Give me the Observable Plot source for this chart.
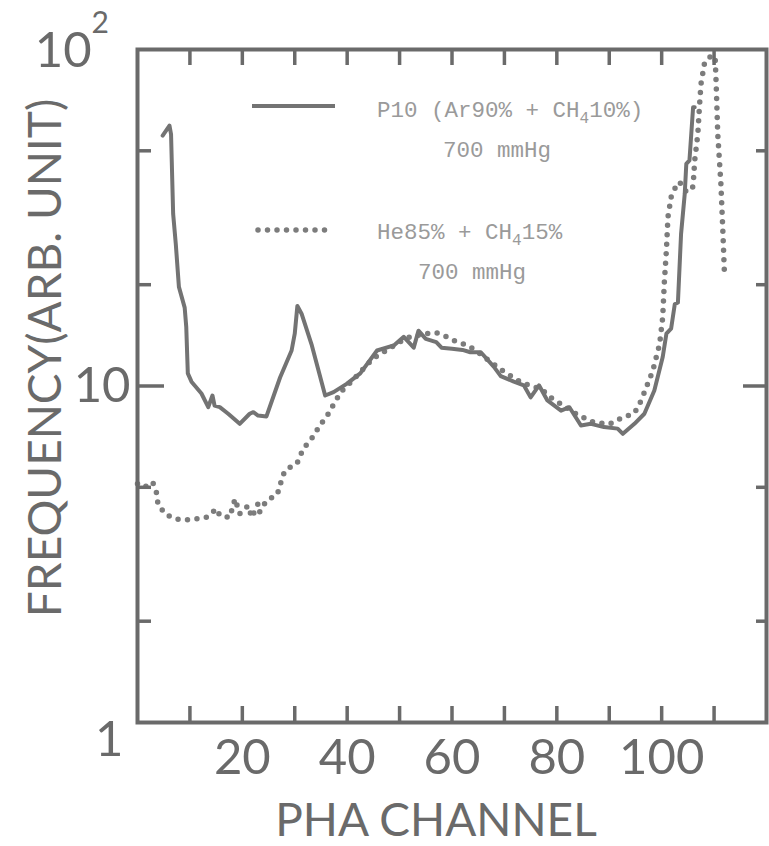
<!DOCTYPE html>
<html><head><meta charset="utf-8">
<script src="https://cdn.jsdelivr.net/npm/d3@7"></script>
<script src="https://cdn.jsdelivr.net/npm/@observablehq/plot@0.6"></script>
<style>body{margin:0;background:#fff} svg{display:block}</style>
</head><body><div id="chart"></div>
<script>
// ---- data ----
const p10Channel = [4.8, 6.1, 6.4, 6.8, 7.3, 7.9, 9.0, 9.3, 9.6, 10.3, 12.2, 13.5, 14.3, 14.7, 15.7, 17.3, 19.5, 21.4, 22.1, 23.0, 24.6, 27.2, 29.4, 30.0, 30.5, 31.3, 33.2, 35.8, 37.4, 39.9, 42.5, 45.7, 48.9, 50.8, 52.7, 53.6, 55, 57, 58, 60, 62, 63.5, 65.5, 68.0, 69.3, 71.8, 73.7, 75.0, 76.6, 78.2, 80.8, 82.4, 84.6, 86.5, 89, 91.6, 92.6, 94.8, 96.7, 98.6, 100.2, 100.9, 101.8, 102.5, 103.1, 103.7, 104.4, 104.7, 105.3, 106.0, 106.3];
const p10Freq = [55.5, 59.4, 56, 32.5, 26.5, 19.7, 17.1, 15.0, 10.9, 10.3, 9.5, 8.65, 9.37, 8.74, 8.65, 8.27, 7.72, 8.27, 8.36, 8.17, 8.12, 10.6, 12.75, 14.3, 17.3, 16.4, 13.3, 9.37, 9.59, 10.15, 10.9, 12.75, 13.2, 14.0, 13.0, 14.6, 13.8, 13.5, 13.0, 12.9, 12.8, 12.6, 12.6, 11.4, 10.7, 10.3, 10.05, 9.25, 10.05, 9.06, 8.45, 8.65, 7.63, 7.72, 7.55, 7.47, 7.21, 7.72, 8.27, 9.7, 12.2, 14.3, 14.8, 17.5, 17.7, 28.3, 37.2, 45.7, 46.8, 67.4, 67.4];
const heChannel = [0, 1.3, 2.9, 3.6, 3.9, 5.2, 7.1, 9.3, 11.2, 13.1, 15.1, 15.7, 17.6, 18.6, 19.5, 21.1, 21.8, 23.0, 23.3, 24.6, 26.5, 27.2, 27.5, 28.5, 30.4, 31.6, 33.2, 34.8, 36.4, 38.0, 39.3, 40, 42.5, 45, 48, 50, 52, 55, 57, 59, 61, 63, 65, 67, 70, 73, 75, 77, 79, 81, 84, 87, 90, 92.6, 94.8, 96.1, 98.3, 99.6, 100.2, 100.5, 100.9, 101.2, 101.8, 102.8, 103.4, 104.5, 105.6, 106.0, 106.3, 106.9, 107.2, 107.5, 108.2, 109.5, 110.2, 110.4, 110.7, 111.3, 111.7, 112.0];
const heFreq = [5.12, 5.0, 5.18, 4.83, 4.47, 4.17, 4.03, 4.0, 4.03, 4.07, 4.32, 4.12, 4.07, 4.62, 4.17, 4.41, 4.07, 4.47, 4.22, 4.57, 4.73, 5.0, 5.36, 5.67, 5.87, 6.5, 6.97, 7.63, 8.27, 9.16, 9.8, 10.0, 11.0, 12.1, 12.9, 13.5, 14.0, 14.3, 14.4, 14.0, 13.5, 13.2, 12.6, 11.9, 11.0, 10.3, 10.0, 9.8, 9.2, 8.8, 8.2, 7.8, 7.7, 8.07, 8.3, 9.06, 11.1, 13.3, 16.0, 20.2, 25.3, 31.8, 36.4, 39.5, 40.4, 38, 38, 39.3, 46.8, 56, 67.4, 79, 91.6, 96, 95, 79, 56, 39.8, 28.2, 21];
const xTickValues = [10, 20, 30, 40, 50, 60, 70, 80, 90, 100, 110];
const xTickLabels = [20, 40, 60, 80, 100];
const yMinorTicks = [2, 5, 20, 50];
const yMajorTicks = [10];
const yLabelTen = ["10"];
const yLabelOne = ["1"];
const yTopBase = "10", yTopExp = "2";
const xTitle = "PHA CHANNEL";
const yTitle = "FREQUENCY(ARB. UNIT)";
const legendP10Gas = ["P10 (Ar90% + CH", "4", "10%)"];
const legendHeGas = ["He85% + CH", "4", "15%"];
const legendPressure = "700 mmHg";

// ---- layout ----
const W = 769, H = 846, mL = 137, mR = 3, mT = 49, mB = 124;
const pw = W - mL - mR, ph = H - mT - mB;
const ink = "#6a6a6a";
const bigFont = "Lato, 'Open Sans', sans-serif";

const p10 = p10Channel.map((c, i) => ({channel: c, freq: p10Freq[i]}));
const he = heChannel.map((c, i) => ({channel: c, freq: heFreq[i]}));

const plot = Plot.plot({
  width: W, height: H,
  marginLeft: mL, marginRight: mR, marginTop: mT, marginBottom: mB,
  x: {domain: [0, 120], axis: null},
  y: {type: "log", domain: [1, 100], axis: null},
  style: {background: "#fff", fontFamily: bigFont},
  marks: [
    Plot.line(he, {x: "channel", y: "freq", stroke: "#7c7c7c", strokeWidth: 5.5, strokeDasharray: "0 9.5", strokeLinecap: "round"}),
    Plot.line(p10, {x: "channel", y: "freq", stroke: "#737373", strokeWidth: 4, strokeLinejoin: "round"}),
    Plot.ruleX(xTickValues, {x: d => d, insetTop: ph - 16, stroke: ink, strokeWidth: 3.5}),
    Plot.ruleX(xTickValues, {x: d => d, insetBottom: ph - 16, stroke: ink, strokeWidth: 3.5}),
    Plot.ruleY(yMinorTicks, {y: d => d, insetRight: pw - 14, stroke: ink, strokeWidth: 3.5}),
    Plot.ruleY(yMajorTicks, {y: d => d, insetRight: pw - 27, stroke: ink, strokeWidth: 3.5}),
    Plot.ruleY(yMinorTicks, {y: d => d, insetLeft: pw - 10, stroke: ink, strokeWidth: 3.5}),
    Plot.ruleY(yMajorTicks, {y: d => d, insetLeft: pw - 23, stroke: ink, strokeWidth: 3.5}),
    Plot.frame({stroke: ink, strokeWidth: 4}),
    Plot.text(xTickLabels, {x: d => d, frameAnchor: "bottom", lineAnchor: "top", dy: 17, text: d => String(d), fontSize: 49, fontWeight: 400, fill: ink}),
    Plot.text(yLabelTen, {y: () => 10, frameAnchor: "left", textAnchor: "end", dx: -7, text: d => d, fontSize: 49, fontWeight: 400, fill: ink}),
    Plot.text(yLabelOne, {y: () => 1, frameAnchor: "left", textAnchor: "end", dx: -14, dy: 18, text: d => d, fontSize: 49, fontWeight: 400, fill: ink})
  ]
});

const svg = d3.select(plot);
const yS = plot.scale("y");

// 10^2 label at the top of the y axis
const topLabel = svg.append("text")
  .attr("x", mL - 28).attr("y", yS.apply(100) + 18)
  .attr("text-anchor", "end")
  .attr("font-family", bigFont).attr("font-weight", 400)
  .attr("font-size", 49).attr("fill", ink);
topLabel.append("tspan").text(yTopBase);
topLabel.append("tspan").attr("font-size", 30).attr("dy", -34).text(yTopExp);

// axis titles
svg.append("text")
  .attr("transform", `translate(61,358) rotate(-90)`)
  .attr("text-anchor", "middle")
  .attr("font-family", bigFont).attr("font-weight", 400)
  .attr("font-size", 46).attr("fill", ink)
  .text(yTitle);
svg.append("text")
  .attr("x", 436).attr("y", 836)
  .attr("text-anchor", "middle")
  .attr("font-family", bigFont).attr("font-weight", 400)
  .attr("font-size", 46).attr("fill", ink)
  .text(xTitle);

// legend
const lg = svg.append("g").attr("font-family", "'Liberation Mono', 'DejaVu Sans Mono', monospace")
  .attr("font-size", 22.5).attr("fill", "#9a9a9a").attr("text-anchor", "start");
lg.append("line").attr("x1", 252).attr("x2", 335).attr("y1", 106).attr("y2", 106)
  .attr("stroke", "#737373").attr("stroke-width", 4);
lg.append("line").attr("x1", 258).attr("x2", 334).attr("y1", 230).attr("y2", 230)
  .attr("stroke", "#7c7c7c").attr("stroke-width", 5.5).attr("stroke-dasharray", "0 9.5").attr("stroke-linecap", "round");
function gasLabel(parts, x, y) {
  const t = lg.append("text").attr("x", x).attr("y", y);
  t.append("tspan").text(parts[0]);
  t.append("tspan").attr("font-size", 16).attr("dy", 6).text(parts[1]);
  t.append("tspan").attr("dy", -6).text(parts[2]);
}
gasLabel(legendP10Gas, 377, 117);
lg.append("text").attr("x", 443).attr("y", 157).text(legendPressure);
gasLabel(legendHeGas, 377, 239);
lg.append("text").attr("x", 418).attr("y", 279).text(legendPressure);

document.getElementById("chart").append(plot);
</script>
</body></html>
